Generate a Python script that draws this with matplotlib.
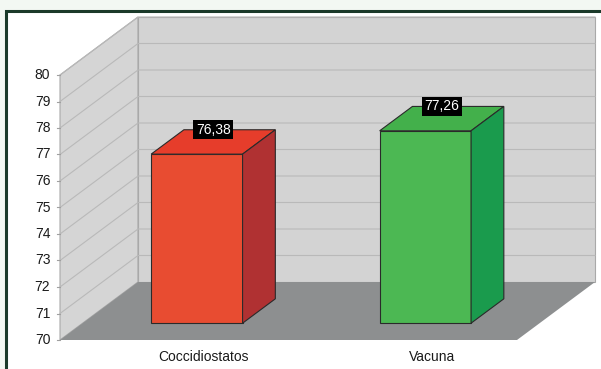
import matplotlib
matplotlib.use("Agg")
import matplotlib.pyplot as plt
from matplotlib.patches import Polygon, Rectangle

# datos
categorias = ["Coccidiostatos", "Vacuna"]
valores = [76.38, 77.26]
etiquetas = ["76,38", "77,26"]
ticks_y = list(range(70, 81))

# colores de cada barra: frente, tapa, lateral
colores = [("#e84c31", "#e63d2b", "#b03132"),
           ("#4cb853", "#43b04b", "#1a9b4d")]

plt.rcParams["font.family"] = ["Liberation Sans", "DejaVu Sans"]

W, H = 601, 369
fig = plt.figure(figsize=(W / 100, H / 100), dpi=100, facecolor="#f3f8f3")

# marco verde oscuro con fondo blanco
fig.patches.append(Rectangle((6 / W, -0.1), 1.2, (H - 11) / H + 0.1,
                             transform=fig.transFigure, facecolor="white",
                             edgecolor="#1b3a2a", linewidth=2.2, zorder=-5))

# ejes en pixeles: frente 60..517, fondo 17..340
ax = fig.add_axes([60 / W, (H - 340) / H, (595 - 60) / W, (340 - 17) / H])
ax.set_zorder(2)
ax.axis("off")

DX = 78 / 228.5   # profundidad en unidades de categoria
DY = 58 / 26.5    # profundidad en unidades del eje y
x0, x1 = -0.5, len(categorias) - 0.5
ymin, ymax = 70, 80
ax.set_xlim(x0, x1 + DX)
ax.set_ylim(ymin, ymax + DY)

def poly(pts, fc, ec="none", lw=0.8, z=1):
    ax.add_patch(Polygon(pts, closed=True, facecolor=fc, edgecolor=ec,
                         linewidth=lw, zorder=z, clip_on=False))

# paredes y piso
poly([(x0, ymin), (x0 + DX, ymin + DY), (x0 + DX, ymax + DY), (x0, ymax)],
     "#d5d5d5", "#a9a9a9")
poly([(x0 + DX, ymin + DY), (x1 + DX, ymin + DY), (x1 + DX, ymax + DY),
      (x0 + DX, ymax + DY)], "#d3d3d3", "#a9a9a9")
poly([(x0, ymin), (x1, ymin), (x1 + DX, ymin + DY), (x0 + DX, ymin + DY)],
     "#8d8f90", z=2)

# lineas de division
for v in ticks_y[1:]:
    ax.plot([x0, x0 + DX, x1 + DX], [v, v + DY, v + DY], color="#b9b9b9",
            lw=0.8, zorder=1.5, clip_on=False)
for v in ticks_y:
    ax.plot([x0 - 0.012, x0], [v, v], color="#a0a0a0", lw=0.8, clip_on=False)
    ax.annotate(str(v), (x0, v), xytext=(-7, 0), textcoords="offset points",
                ha="right", va="center", fontsize=10, color="#1a1a1a")

# barras en 3D (proyeccion oblicua)
ancho = 0.4
d0, d1 = 0.29, 0.71
for i, (v, (cf, ct, cs)) in enumerate(zip(valores, colores)):
    bx = i - ancho / 2 + d0 * DX
    by = ymin + d0 * DY
    ty = v + d0 * DY
    ddx, ddy = (d1 - d0) * DX, (d1 - d0) * DY
    poly([(bx, by), (bx + ancho, by), (bx + ancho, ty), (bx, ty)],
         cf, "#2a2a2a", z=3)
    poly([(bx, ty), (bx + ancho, ty), (bx + ancho + ddx, ty + ddy),
          (bx + ddx, ty + ddy)], ct, "#2a2a2a", z=3)
    poly([(bx + ancho, by), (bx + ancho + ddx, by + ddy),
          (bx + ancho + ddx, ty + ddy), (bx + ancho, ty)], cs, "#2a2a2a", z=3)
    ax.text(i + 0.5 * DX, v + d1 * DY, etiquetas[i], ha="center", va="center",
            fontsize=10, color="white", zorder=5,
            bbox=dict(boxstyle="square,pad=0.18", facecolor="black",
                      edgecolor="none"))
    ax.annotate(categorias[i], (i + 0.127, ymin), xytext=(0, -12),
                textcoords="offset points", ha="center", va="center",
                fontsize=10, color="#1a1a1a")

fig.savefig("out.png", dpi=100, facecolor=fig.get_facecolor())
